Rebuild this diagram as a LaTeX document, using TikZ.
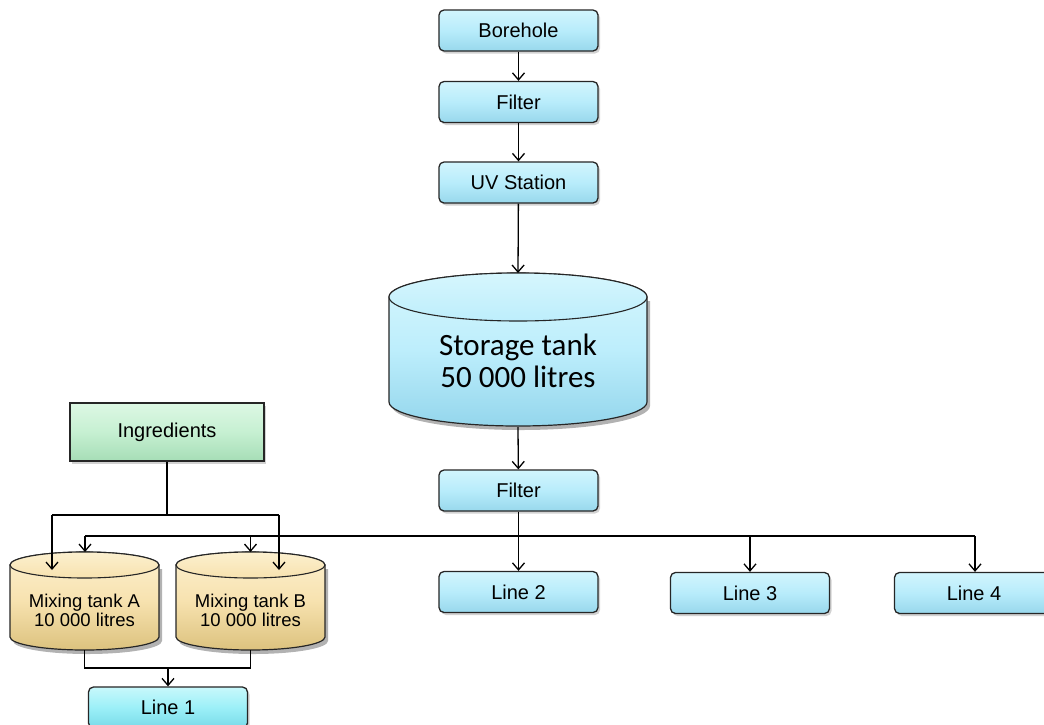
\documentclass[tikz,border=0pt]{standalone}
\usepackage{fontspec}
\setmainfont{Liberation Sans}
\newfontfamily\calib{Carlito}
\usetikzlibrary{arrows.meta,shadows,calc}
\definecolor{boxc}{HTML}{B8ECFB}
\definecolor{boxtop}{HTML}{D2F5FD}
\definecolor{boxbot}{HTML}{98D8EC}
\definecolor{linec}{HTML}{9CF0F8}
\definecolor{linetop}{HTML}{C8F8FB}
\definecolor{linebot}{HTML}{78DAE8}
\definecolor{ingc}{HTML}{C6F0D2}
\definecolor{ingtop}{HTML}{DDF8E4}
\definecolor{ingbot}{HTML}{A6DDB6}
\definecolor{tankc}{HTML}{F7E2AF}
\definecolor{tanktop}{HTML}{FCF0CF}
\definecolor{tankbot}{HTML}{DCC27E}
\definecolor{stc}{HTML}{BDEEFC}
\definecolor{sttop}{HTML}{D6F6FD}
\definecolor{stbot}{HTML}{94D6EC}
\tikzset{
  box/.style={draw=black!85, line width=1.3pt, rounded corners=5pt,
    minimum width=159pt, minimum height=41pt, inner sep=0pt,
    top color=boxtop, bottom color=boxbot, middle color=boxc,
    font=\fontsize{20}{24}\selectfont,
    drop shadow={shadow xshift=2pt,shadow yshift=-2.5pt,opacity=.35}},
  linebox/.style={box, top color=linetop, bottom color=linebot, middle color=linec},
  ingbox/.style={box, rounded corners=0pt, minimum width=194pt, minimum height=58pt,
    top color=ingtop, bottom color=ingbot, middle color=ingc},
  ghost/.style={inner sep=0pt, outer sep=0pt},
  conn/.style={line width=1.3pt, black},
  arr/.style={conn, -{Straight Barb[length=7pt,width=12pt]}},
  tanktxt/.style={font=\fontsize{18.5}{19}\selectfont, align=center},
  sttxt/.style={font=\calib\fontsize{31}{32}\selectfont, align=center}
}
% cx, ytop, ybot, rx, ry, colour prefix
\newcommand{\drawcyl}[6]{%
  \fill[black, opacity=.3] (#1-#4+3,#2+4) -- (#1-#4+3,#3+4)
     arc[start angle=180,end angle=0,x radius=#4,y radius=#5] -- (#1+#4+3,#2+4) -- cycle;
  \path[draw=black!85, line width=1.2pt, top color=#6top, bottom color=#6bot, middle color=#6c]
     (#1-#4,#2) -- (#1-#4,#3)
     arc[start angle=180,end angle=0,x radius=#4,y radius=#5]
     -- (#1+#4,#2)
     arc[start angle=0,end angle=-180,x radius=#4,y radius=#5] -- cycle;
  \path[draw=black!85, line width=1.1pt, top color=#6top, bottom color=#6c]
     (#1,#2) ellipse[x radius=#4, y radius=#5];
}
\begin{document}
\begin{tikzpicture}[x=1pt,y=-1pt]
\useasboundingbox (0,0) rectangle (1044,724);
\clip (0,0) rectangle (1044,724);
\fill[white] (0,0) rectangle (1044,724);

% cylinders
\drawcyl{518}{297}{402}{129}{24}{st}
\drawcyl{84.5}{565}{637}{74.5}{13}{tank}
\drawcyl{250.5}{565}{637}{74.5}{13}{tank}

% cylinder outline nodes
\node[ghost, minimum width=258pt, minimum height=154pt] (stor) at (518,350) {};
\node[ghost, minimum width=149pt, minimum height=98pt] (tankA) at (84.5,601) {};
\node[ghost, minimum width=149pt, minimum height=98pt] (tankB) at (250.5,601) {};
\node[sttxt] (stortxt) at (518,361) {Storage tank\\50 000 litres};
\node[tanktxt] (tankAtxt) at (84.5,610) {Mixing tank A\\10 000 litres};
\node[tanktxt] (tankBtxt) at (250.5,610) {Mixing tank B\\10 000 litres};

% boxes
\node[box] (bore) at (518.5,30.5) {Borehole};
\node[box] (filt1) at (518.5,102) {Filter};
\node[box] (uv) at (518.5,182.5) {UV Station};
\node[box] (filt2) at (518.5,490.5) {Filter};
\node[box] (line2) at (518.5,592) {Line 2};
\node[box] (line3) at (750,593) {Line 3};
\node[box] (line4) at (974,593) {Line 4};
\node[linebox] (line1) at (168,707.5) {Line 1};
\node[ingbox] (ingr) at (167,432) {Ingredients};

% main chain
\draw[arr] (bore) -- (filt1);
\draw[arr] (filt1) -- (uv);
\draw[arr] (uv) -- (stor.north);
\draw[arr] (stor.south) -- (filt2);
\draw[arr] (filt2) -- (line2);

% distribution bus
\coordinate (busL) at (85,536);
\coordinate (busR) at (975,536);
\draw[conn] (busL) -- (busR);
\draw[arr] (busL) -- (busL |- tankA.north);
\draw[arr] (tankB.north |- busL) -- (tankB.north);
\draw[arr] (line3.north |- busL) -- (line3.north);
\draw[arr] (busR) -- (busR |- line4.north);

% ingredients
\coordinate (iy) at (0,515);
\coordinate (ibusL) at (52,515);
\coordinate (ibusR) at (279,515);
\coordinate (inA) at (52,570);
\coordinate (inB) at (279,570);
\draw[conn] (ingr.south) -- (ingr.south |- iy);
\draw[conn] (ibusL) -- (ibusR);
\draw[arr] (ibusL) -- (inA);
\draw[arr] (ibusR) -- (inB);

% tanks to line 1
\coordinate (jy) at (0,668);
\draw[conn] (tankA.south) -- (tankA.south |- jy) -- (tankB.south |- jy) -- (tankB.south);
\draw[arr] (line1.north |- jy) -- (line1.north);
\end{tikzpicture}
\end{document}
